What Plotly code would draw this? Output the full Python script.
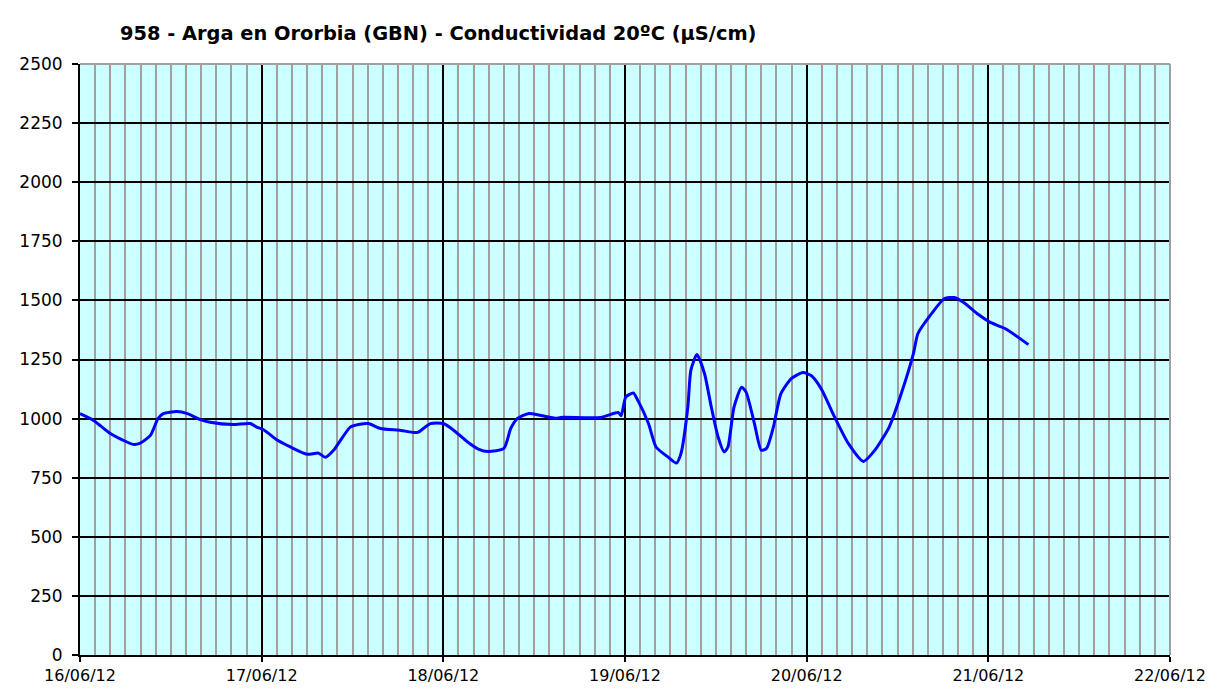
import pandas as pd
import plotly.graph_objects as go

# Hours elapsed since 16/06/12 00:00 and conductivity values (µS/cm)
hours = [0, 1.8, 4.0, 6.2, 7.0, 7.9, 9.3, 10.3, 11.0, 12.8, 14.2, 15.9, 17.2, 20.2, 22.5, 23.4,
         24.2, 26.1, 27.8, 30.0, 31.5, 32.4, 33.5, 35.7, 36.8, 38.1, 39.7, 42.4, 44.1, 44.7, 46.3,
         48.0, 49.4, 51.2, 52.7, 53.9, 56.0, 56.9, 57.8, 59.2, 60.9, 62.9, 63.5, 68.8, 71.1, 71.5,
         72.1, 73.1, 73.7, 75.1, 76.1, 77.7, 78.8, 79.4, 80.3, 80.7, 81.5, 82.5, 83.4, 84.3, 85.1,
         85.6, 86.4, 87.4, 88.0, 89.1, 90.0, 90.7, 91.6, 92.6, 94.0, 95.5, 96.6, 97.9, 99.7, 101.5,
         103.5, 105.0, 106.9, 108.5, 110.1, 110.7, 112.5, 114.2, 115.5, 116.7, 118.7, 120.2, 122.2,
         125.3]
values = [1021, 992, 937, 901, 891, 895, 929, 1000, 1021, 1030, 1021, 996, 985, 975, 979, 963,
          954, 908, 880, 849, 854, 836, 866, 964, 975, 979, 958, 950, 941, 943, 979,
          979, 950, 901, 870, 861, 874, 958, 1001, 1021, 1013, 1001, 1005, 1005, 1026, 1013,
          1091, 1108, 1077, 979, 880, 837, 812, 853, 1049, 1204, 1271, 1191, 1049, 922, 859,
          880, 1049, 1133, 1112, 979, 866, 874, 964, 1106, 1170, 1195, 1182, 1127, 1006, 895,
          819, 866, 964, 1106, 1275, 1360, 1444, 1508, 1512, 1492, 1440, 1408, 1381,
          1313]

start = pd.Timestamp("2012-06-16 00:00")
times = [start + pd.Timedelta(hours=h) for h in hours]

title_text = "958 - Arga en Ororbia (GBN) - Conductividad 20ºC (µS/cm)"
font_family = "DejaVu Sans"

fig = go.Figure()
fig.add_trace(go.Scatter(
    x=times, y=values, mode="lines",
    line=dict(color="#0000FF", width=3, shape="spline", smoothing=0.6),
    hoverinfo="x+y", showlegend=False,
))

W, H = 1228, 691
fig.update_layout(
    width=W, height=H,
    margin=dict(l=72, r=W - 72 - 1090, t=56, b=H - 56 - 591),
    paper_bgcolor="white",
    plot_bgcolor="#CCFFFF",
    font=dict(family=font_family, size=16, color="black"),
    title=dict(text="<b>" + title_text + "</b>", x=112 / W, xanchor="left",
               y=1 - 25 / H, yanchor="middle",
               font=dict(family=font_family, size=19.4, color="black")),
)

# gray frame on top and right edges of plot area
fig.add_shape(type="line", xref="x domain", yref="y domain", x0=0, x1=1, y0=1, y1=1,
              line=dict(color="#A0A0A0", width=2), layer="above")
fig.add_shape(type="line", xref="x domain", yref="y domain", x0=1, x1=1, y0=0, y1=1,
              line=dict(color="#A0A0A0", width=2), layer="above")

fig.update_xaxes(
    type="date",
    range=["2012-06-16", "2012-06-22"],
    dtick=86400000, tick0="2012-06-16",
    tickformat="%d/%m/%y",
    showgrid=True, gridcolor="#000000", gridwidth=2,
    minor=dict(dtick=2 * 3600000, tick0="2012-06-16", showgrid=True,
               gridcolor="#A0A0A0", gridwidth=2),
    showline=True, linecolor="black", linewidth=2,
    ticks="outside", ticklen=5, tickcolor="black", tickwidth=2,
    tickfont=dict(family=font_family, size=16),
    zeroline=False,
)
fig.update_yaxes(
    range=[0, 2500], dtick=250, tick0=0,
    showgrid=True, gridcolor="#000000", gridwidth=2,
    showline=True, linecolor="black", linewidth=2,
    ticks="outside", ticklen=6, tickcolor="black", tickwidth=2,
    ticklabelstandoff=6,
    tickfont=dict(family=font_family, size=17),
    zeroline=False,
)

fig.write_html("out.html")
